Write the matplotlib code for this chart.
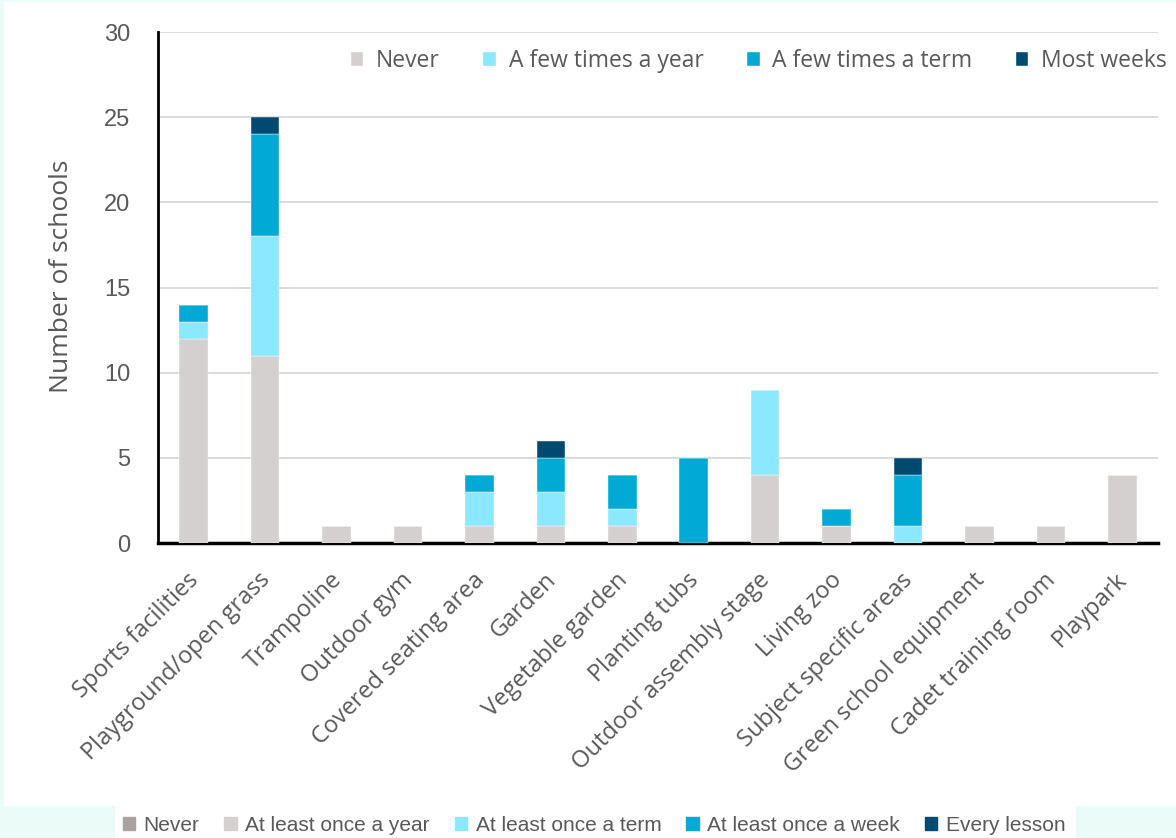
import matplotlib.pyplot as plt
import matplotlib.patches as mpatches
import matplotlib.transforms as mtransforms
import numpy as np

# Outdoor spaces and how often schools use them
categories = ['Sports facilities', 'Playground/open grass', 'Trampoline', 'Outdoor gym',
              'Covered seating area', 'Garden', 'Vegetable garden', 'Planting tubs',
              'Outdoor assembly stage', 'Living zoo', 'Subject specific areas',
              'Green school equipment', 'Cadet training room', 'Playpark']
never = [12, 11, 1, 1, 1, 1, 1, 0, 4, 1, 0, 1, 1, 4]
few_year = [1, 7, 0, 0, 2, 2, 1, 0, 5, 0, 1, 0, 0, 0]
few_term = [1, 6, 0, 0, 1, 2, 2, 5, 0, 1, 3, 0, 0, 0]
most_weeks = [0, 1, 0, 0, 0, 1, 0, 0, 0, 0, 1, 0, 0, 0]

series = [('Never', never, '#D5D0D0'),
          ('A few times a year', few_year, '#8CE8FF'),
          ('A few times a term', few_term, '#00AAD4'),
          ('Most weeks', most_weeks, '#004A70')]

# second key shown along the bottom strip
bottom_labels = ['Never', 'At least once a year', 'At least once a term',
                 'At least once a week', 'Every lesson']
bottom_colors = ['#A9A0A0', '#D5D0D0', '#8CE8FF', '#00AAD4', '#004A70']

text_grey = '#595959'
mint = '#EBFBF8'

fig = plt.figure(figsize=(11.76, 8.38), dpi=100, facecolor=mint)

# white panels behind the chart and the bottom key
fig.patches.append(mpatches.Rectangle((4 / 1176, 32 / 838), 1 - 4 / 1176, 1 - 34 / 838,
                                      transform=fig.transFigure, facecolor='white',
                                      edgecolor='none', zorder=-5))
fig.patches.append(mpatches.Rectangle((115 / 1176, 0), 961 / 1176, 32 / 838,
                                      transform=fig.transFigure, facecolor='white',
                                      edgecolor='none', zorder=-5))

ax = fig.add_axes([158 / 1176, 295 / 838, 1000 / 1176, 511 / 838])
ax.set_facecolor('none')
ax.set_zorder(2)

x = np.arange(len(categories))
bottom = np.zeros(len(categories))
for name, vals, color in series:
    ax.bar(x, vals, 0.4, bottom=bottom, color=color, label=name, zorder=3,
           edgecolor='white', linewidth=0.3)
    bottom += np.array(vals)

ax.set_xlim(-0.5, len(categories) - 0.5)
ax.set_ylim(0, 30)
ax.set_yticks(range(0, 31, 5))
ax.yaxis.grid(True, color='#D4D4D4', linewidth=1.2, zorder=0)
ax.set_axisbelow(True)

for side in ['top', 'right']:
    ax.spines[side].set_visible(False)
ax.spines['left'].set_linewidth(2)
ax.spines['bottom'].set_linewidth(2.5)
ax.tick_params(axis='both', length=0)
ax.tick_params(axis='y', pad=20, labelsize=17, labelcolor=text_grey)
for lbl in ax.get_yticklabels():
    lbl.set_family('Liberation Sans')

ax.set_xticks(x)
ax.set_xticklabels(categories, rotation=45, ha='right', rotation_mode='anchor',
                   fontsize=17, color=text_grey, family='Open Sans')
ax.tick_params(axis='x', pad=8)
# nudge the slanted labels down and to the left of their ticks
shift = mtransforms.ScaledTranslation(-7 / 100, -14 / 100, fig.dpi_scale_trans)
for lbl in ax.get_xticklabels():
    lbl.set_transform(lbl.get_transform() + shift)

ax.set_ylabel('Number of schools', fontsize=19, color=text_grey, family='Open Sans')
ax.yaxis.set_label_coords(-0.084, 0.522)

ax.legend(loc='upper right', bbox_to_anchor=(1.018, 0.985), ncol=4, frameon=False,
          prop={'family': 'Open Sans', 'size': 16.5}, labelcolor=text_grey,
          handlelength=0.55, handleheight=0.55, handletextpad=0.55, columnspacing=1.9,
          borderaxespad=0)

bottom_handles = [mpatches.Patch(color=c, label=l) for l, c in zip(bottom_labels, bottom_colors)]
fig.legend(handles=bottom_handles, loc='center', bbox_to_anchor=(594 / 1176, 13 / 838),
           ncol=5, frameon=False, prop={'family': 'Liberation Sans', 'size': 15},
           labelcolor=text_grey, handlelength=0.6, handleheight=0.6, handletextpad=0.4,
           columnspacing=1.2)

fig.savefig('out.png', dpi=100, facecolor=mint)
